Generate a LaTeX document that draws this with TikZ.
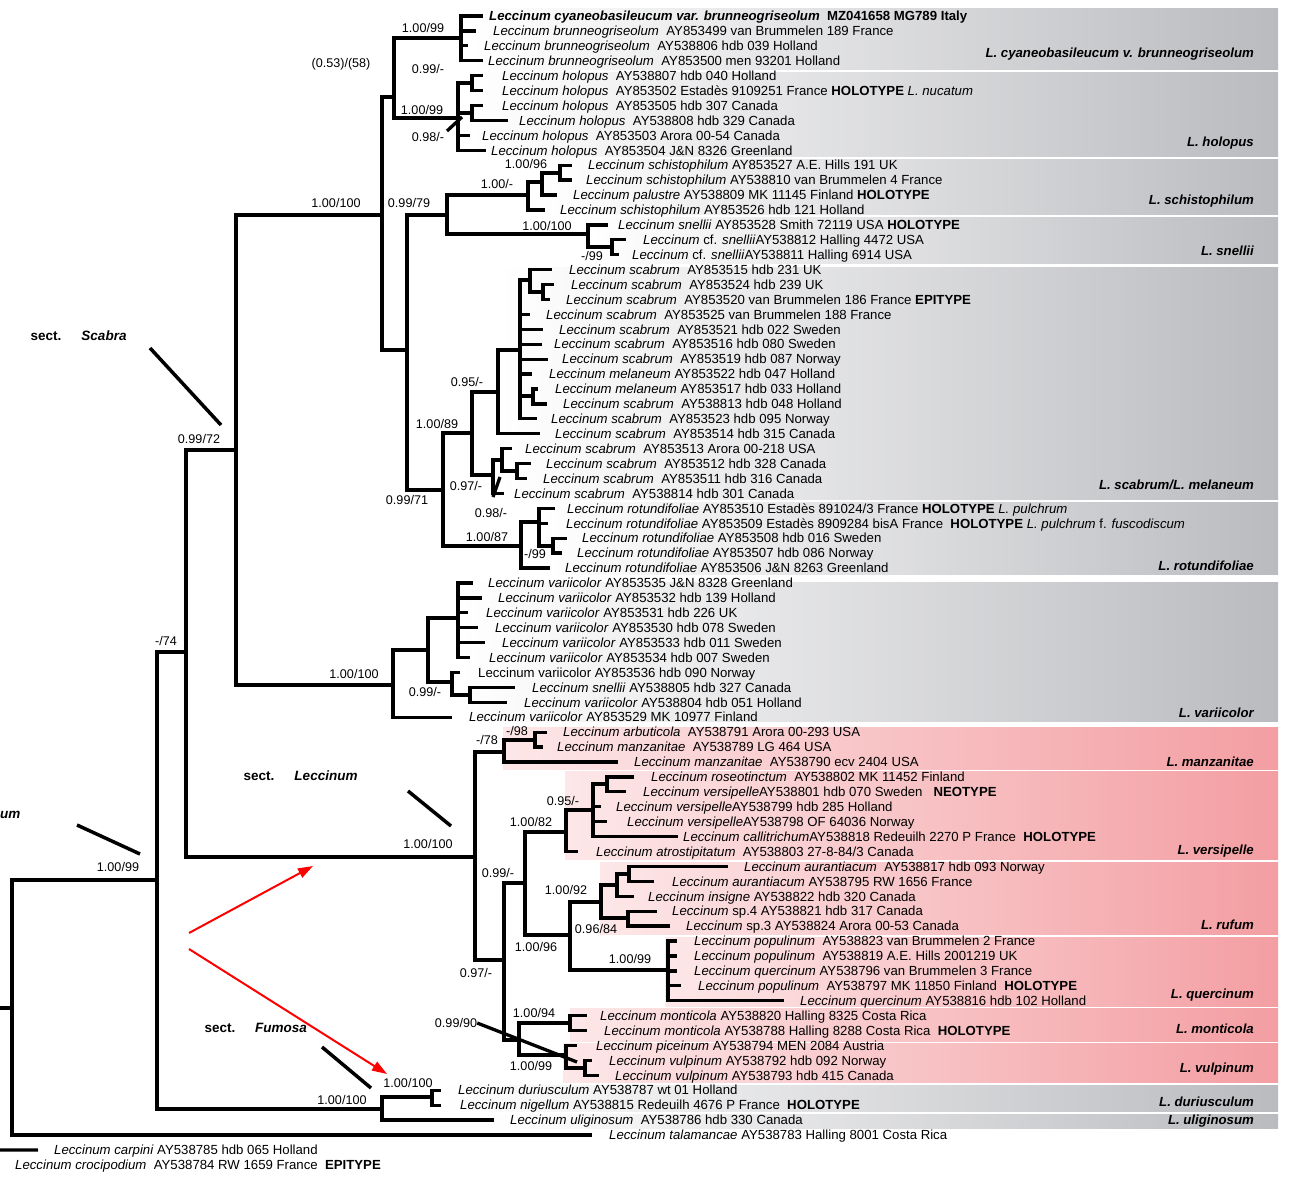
\documentclass[tikz,border=0pt]{standalone}
\usepackage{fontspec}
\setmainfont{Liberation Sans}
\usepackage{xcolor}
\usepackage{tikz}
\usetikzlibrary{arrows.meta}
\definecolor{bandgrey}{RGB}{186,187,191}
\definecolor{bandpink}{RGB}{243,158,162}
\definecolor{palepink}{RGB}{253,231,232}
\tikzstyle{taxon} = [anchor=west, inner sep=0pt, text height=9.5pt, text depth=0pt, font=\fontsize{13.2}{14}\selectfont]
\tikzstyle{sup} = [inner sep=0pt, font=\fontsize{12.6}{13}\selectfont]
\tikzstyle{clade} = [anchor=east, inner sep=0pt, font=\fontsize{13.2}{14}\selectfont\bfseries\itshape]
\tikzstyle{sect} = [inner sep=0pt, font=\fontsize{13.5}{14}\selectfont\bfseries]
\tikzstyle{br} = [line width=3.3pt]
\tikzstyle{sectline} = [line width=3.5pt]
\tikzstyle{redarr} = [-{Triangle[length=15pt,width=10pt]}, line width=2pt, red]
\tikzstyle{greyband} = [left color=white, right color=bandgrey]
\tikzstyle{pinkband} = [left color=palepink, right color=bandpink]
\newcommand{\lec}[1]{\textit{Leccinum #1}}

\begin{document}
\begin{tikzpicture}[x=1pt, y=-1pt]
  \useasboundingbox (0,0) rectangle (1289,1183);
  \fill[white] (0,0) rectangle (1289,1183);
  % clade bands
  \shade[greyband] (470,8) rectangle (1278,69);
  \shade[greyband] (470,72) rectangle (1278,156);
  \shade[greyband] (540,159) rectangle (1278,214);
  \shade[greyband] (590,217) rectangle (1278,263);
  \shade[greyband] (500,267) rectangle (1278,499);
  \shade[greyband] (540,502) rectangle (1278,574);
  \shade[greyband] (460,582) rectangle (1278,721);
  \shade[pinkband] (503,727) rectangle (1278,769);
  \shade[pinkband] (565,771) rectangle (1278,859);
  \shade[pinkband] (600,862) rectangle (1278,934);
  \shade[pinkband] (665,937) rectangle (1278,1006);
  \shade[pinkband] (570,1008) rectangle (1278,1041);
  \shade[pinkband] (563,1043) rectangle (1278,1082);
  \shade[greyband] (440,1085) rectangle (1278,1111);
  \shade[greyband] (490,1114) rectangle (1278,1128);

  % internal nodes (x, height of the stem)
  \coordinate (rootin) at (0,1008);
  \coordinate (root) at (12,1008);
  \coordinate (A) at (157,880);
  \coordinate (B) at (186,652);
  \coordinate (C) at (236,450);
  \coordinate (D) at (382,215);
  \coordinate (E) at (394,97);
  \coordinate (CY) at (461,38);
  \coordinate (H) at (458,118);
  \coordinate (p56) at (472,83);
  \coordinate (p78) at (472,113);
  \coordinate (G) at (407,350);
  \coordinate (S) at (447,215);
  \coordinate (SS) at (528,195);
  \coordinate (SS2) at (542,182);
  \coordinate (P1112) at (560,173);
  \coordinate (SN) at (588,234);
  \coordinate (P1617) at (612,247);
  \coordinate (R) at (443,490);
  \coordinate (SC) at (472,433);
  \coordinate (SA) at (498,392);
  \coordinate (SB) at (520,350);
  \coordinate (PA) at (530,280);
  \coordinate (PB) at (543,292);
  \coordinate (P2627) at (533,396);
  \coordinate (SD) at (493,475);
  \coordinate (SF) at (502,460);
  \coordinate (P3132) at (517,471);
  \coordinate (RO) at (521,546);
  \coordinate (RA) at (539,522);
  \coordinate (P3637) at (553,546);
  \coordinate (V) at (393,685);
  \coordinate (V1) at (428,650);
  \coordinate (V2) at (458,618);
  \coordinate (V3) at (452,682);
  \coordinate (P4647) at (470,695);
  \coordinate (L) at (475,857);
  \coordinate (M) at (504,752);
  \coordinate (M1) at (535,740);
  \coordinate (LA) at (504,960);
  \coordinate (VE) at (525,883);
  \coordinate (VC) at (566,832);
  \coordinate (VA) at (593,810);
  \coordinate (VB) at (607,784);
  \coordinate (RU) at (570,935);
  \coordinate (RF) at (601,902);
  \coordinate (RF1) at (617,885);
  \coordinate (RF2) at (629,874);
  \coordinate (RF3) at (628,918);
  \coordinate (QU) at (668,970);
  \coordinate (MV) at (519,1040);
  \coordinate (MO) at (570,1023);
  \coordinate (VU) at (566,1055);
  \coordinate (P7172) at (585,1068);
  \coordinate (F) at (382,1109);
  \coordinate (DU) at (432,1097);
  \coordinate (cin) at (0,1150);

  % taxa
  \node[taxon] (n1) at (489,16.0) {\textbf{\textit{Leccinum cyaneobasileucum var. brunneogriseolum}\ \ MZ041658 MG789 Italy}};
  \node[taxon] (n2) at (493,30.9) {\lec{brunneogriseolum}\ \ AY853499 van Brummelen 189 France};
  \node[taxon] (n3) at (484,45.8) {\lec{brunneogriseolum}\ \ AY538806 hdb 039 Holland};
  \node[taxon] (n4) at (488,60.8) {\lec{brunneogriseolum}\ \ AY853500 men 93201 Holland};
  \node[taxon] (n5) at (502,75.7) {\lec{holopus}\ \ AY538807 hdb 040 Holland};
  \node[taxon] (n6) at (502,90.6) {\lec{holopus}\ \ AY853502 Estadès 9109251 France \textbf{HOLOTYPE} \textit{L. nucatum}};
  \node[taxon] (n7) at (502,105.5) {\lec{holopus}\ \ AY853505 hdb 307 Canada};
  \node[taxon] (n8) at (519,120.4) {\lec{holopus}\ \ AY538808 hdb 329 Canada};
  \node[taxon] (n9) at (482,135.4) {\lec{holopus}\ \ AY853503 Arora 00-54 Canada};
  \node[taxon] (n10) at (491,150.3) {\lec{holopus}\ \ AY853504 J\&N 8326 Greenland};
  \node[taxon] (n11) at (588,165.2) {\lec{schistophilum} AY853527 A.E. Hills 191 UK};
  \node[taxon] (n12) at (586,180.1) {\lec{schistophilum} AY538810 van Brummelen 4 France};
  \node[taxon] (n13) at (573,195.0) {\lec{palustre} AY538809 MK 11145 Finland \textbf{HOLOTYPE}};
  \node[taxon] (n14) at (560,210.0) {\lec{schistophilum} AY853526 hdb 121 Holland};
  \node[taxon] (n15) at (618,224.9) {\lec{snellii} AY853528 Smith 72119 USA \textbf{HOLOTYPE}};
  \node[taxon] (n16) at (643,239.8) {\textit{Leccinum} cf. \textit{snellii}AY538812 Halling 4472 USA};
  \node[taxon] (n17) at (632,254.7) {\textit{Leccinum} cf. \textit{snellii}AY538811 Halling 6914 USA};
  \node[taxon] (n18) at (569,269.6) {\lec{scabrum}\ \ AY853515 hdb 231 UK};
  \node[taxon] (n19) at (571,284.6) {\lec{scabrum}\ \ AY853524 hdb 239 UK};
  \node[taxon] (n20) at (566,299.5) {\lec{scabrum}\ \ AY853520 van Brummelen 186 France \textbf{EPITYPE}};
  \node[taxon] (n21) at (546,314.4) {\lec{scabrum}\ \ AY853525 van Brummelen 188 France};
  \node[taxon] (n22) at (559,329.3) {\lec{scabrum}\ \ AY853521 hdb 022 Sweden};
  \node[taxon] (n23) at (554,344.2) {\lec{scabrum}\ \ AY853516 hdb 080 Sweden};
  \node[taxon] (n24) at (562,359.2) {\lec{scabrum}\ \ AY853519 hdb 087 Norway};
  \node[taxon] (n25) at (549,374.1) {\lec{melaneum} AY853522 hdb 047 Holland};
  \node[taxon] (n26) at (555,389.0) {\lec{melaneum} AY853517 hdb 033 Holland};
  \node[taxon] (n27) at (563,403.9) {\lec{scabrum}\ \ AY538813 hdb 048 Holland};
  \node[taxon] (n28) at (551,418.8) {\lec{scabrum}\ \ AY853523 hdb 095 Norway};
  \node[taxon] (n29) at (555,433.8) {\lec{scabrum}\ \ AY853514 hdb 315 Canada};
  \node[taxon] (n30) at (525,448.7) {\lec{scabrum}\ \ AY853513 Arora 00-218 USA};
  \node[taxon] (n31) at (546,463.6) {\lec{scabrum}\ \ AY853512 hdb 328 Canada};
  \node[taxon] (n32) at (543,478.5) {\lec{scabrum}\ \ AY853511 hdb 316 Canada};
  \node[taxon] (n33) at (514,493.4) {\lec{scabrum}\ \ AY538814 hdb 301 Canada};
  \node[taxon] (n34) at (567,508.4) {\lec{rotundifoliae} AY853510 Estadès 891024/3 France \textbf{HOLOTYPE} \textit{L. pulchrum}};
  \node[taxon] (n35) at (566,523.3) {\lec{rotundifoliae} AY853509 Estadès 8909284 bisA France\ \ \textbf{HOLOTYPE} \textit{L. pulchrum} f. \textit{fuscodiscum}};
  \node[taxon] (n36) at (582,538.2) {\lec{rotundifoliae} AY853508 hdb 016 Sweden};
  \node[taxon] (n37) at (577,553.1) {\lec{rotundifoliae} AY853507 hdb 086 Norway};
  \node[taxon] (n38) at (565,568.0) {\lec{rotundifoliae} AY853506 J\&N 8263 Greenland};
  \node[taxon] (n39) at (488,583.0) {\lec{variicolor} AY853535 J\&N 8328 Greenland};
  \node[taxon] (n40) at (498,597.9) {\lec{variicolor} AY853532 hdb 139 Holland};
  \node[taxon] (n41) at (486,612.8) {\lec{variicolor} AY853531 hdb 226 UK};
  \node[taxon] (n42) at (495,627.7) {\lec{variicolor} AY853530 hdb 078 Sweden};
  \node[taxon] (n43) at (502,642.6) {\lec{variicolor} AY853533 hdb 011 Sweden};
  \node[taxon] (n44) at (489,657.6) {\lec{variicolor} AY853534 hdb 007 Sweden};
  \node[taxon] (n45) at (478,672.5) {Leccinum variicolor AY853536 hdb 090 Norway};
  \node[taxon] (n46) at (532,687.4) {\lec{snellii} AY538805 hdb 327 Canada};
  \node[taxon] (n47) at (524,702.3) {\lec{variicolor} AY538804 hdb 051 Holland};
  \node[taxon] (n48) at (469,717.2) {\lec{variicolor} AY853529 MK 10977 Finland};
  \node[taxon] (n49) at (563,732.2) {\lec{arbuticola}\ \ AY538791 Arora 00-293 USA};
  \node[taxon] (n50) at (557,747.1) {\lec{manzanitae}\ \ AY538789 LG 464 USA};
  \node[taxon] (n51) at (634,762.0) {\lec{manzanitae}\ \ AY538790 ecv 2404 USA};
  \node[taxon] (n52) at (651,776.9) {\lec{roseotinctum}\ \ AY538802 MK 11452 Finland};
  \node[taxon] (n53) at (643,791.8) {\lec{versipelle}AY538801 hdb 070 Sweden\ \ \ \textbf{NEOTYPE}};
  \node[taxon] (n54) at (616,806.8) {\lec{versipelle}AY538799 hdb 285 Holland};
  \node[taxon] (n55) at (627,821.7) {\lec{versipelle}AY538798 OF 64036 Norway};
  \node[taxon] (n56) at (683,836.6) {\lec{callitrichum}AY538818 Redeuilh 2270 P France\ \ \textbf{HOLOTYPE}};
  \node[taxon] (n57) at (596,851.5) {\lec{atrostipitatum}\ \ AY538803 27-8-84/3 Canada};
  \node[taxon] (n58) at (744,866.4) {\lec{aurantiacum}\ \ AY538817 hdb 093 Norway};
  \node[taxon] (n59) at (672,881.4) {\lec{aurantiacum} AY538795 RW 1656 France};
  \node[taxon] (n60) at (648,896.3) {\lec{insigne} AY538822 hdb 320 Canada};
  \node[taxon] (n61) at (672,911.2) {\textit{Leccinum} sp.4 AY538821 hdb 317 Canada};
  \node[taxon] (n62) at (686,926.1) {\textit{Leccinum} sp.3 AY538824 Arora 00-53 Canada};
  \node[taxon] (n63) at (694,941.0) {\lec{populinum}\ \ AY538823 van Brummelen 2 France};
  \node[taxon] (n64) at (694,956.0) {\lec{populinum}\ \ AY538819 A.E. Hills 2001219 UK};
  \node[taxon] (n65) at (694,970.9) {\lec{quercinum} AY538796 van Brummelen 3 France};
  \node[taxon] (n66) at (698,985.8) {\lec{populinum}\ \ AY538797 MK 11850 Finland\ \ \textbf{HOLOTYPE}};
  \node[taxon] (n67) at (800,1000.7) {\lec{quercinum} AY538816 hdb 102 Holland};
  \node[taxon] (n68) at (600,1015.6) {\lec{monticola} AY538820 Halling 8325 Costa Rica};
  \node[taxon] (n69) at (604,1030.6) {\lec{monticola} AY538788 Halling 8288 Costa Rica\ \ \textbf{HOLOTYPE}};
  \node[taxon] (n70) at (596,1045.5) {\lec{piceinum} AY538794 MEN 2084 Austria};
  \node[taxon] (n71) at (609,1060.4) {\lec{vulpinum} AY538792 hdb 092 Norway};
  \node[taxon] (n72) at (615,1075.3) {\lec{vulpinum} AY538793 hdb 415 Canada};
  \node[taxon] (n73) at (458,1090.2) {\lec{duriusculum} AY538787 wt 01 Holland};
  \node[taxon] (n74) at (460,1105.2) {\lec{nigellum} AY538815 Redeuilh 4676 P France\ \ \textbf{HOLOTYPE}};
  \node[taxon] (n75) at (510,1120.1) {\lec{uliginosum}\ \ AY538786 hdb 330 Canada};
  \node[taxon] (n76) at (609,1135.0) {\lec{talamancae} AY538783 Halling 8001 Costa Rica};
  \node[taxon] (n77) at (54,1149.9) {\lec{carpini} AY538785 hdb 065 Holland};
  \node[taxon] (n78) at (15,1164.8) {\lec{crocipodium}\ \ AY538784 RW 1659 France\ \ \textbf{EPITYPE}};

  % tree: node to node
  \draw[br] (rootin) -- (root);
  \foreach \p/\c in {root/A, A/B, A/F, B/C, B/L, C/D, C/V, D/E, D/G, E/CY, E/H, H/p56, H/p78,
      G/S, G/R, S/SS, S/SN, SS/SS2, SS2/P1112, SN/P1617, R/SC, R/RO, SC/SA, SC/SD, SA/SB,
      SB/PA, PA/PB, SB/P2627, SD/SF, SF/P3132, RO/RA, RA/P3637, V/V1, V1/V2, V1/V3, V3/P4647,
      L/M, L/LA, M/M1, LA/VE, LA/MV, VE/VC, VE/RU, VC/VA, VA/VB, RU/RF, RU/QU, RF/RF1, RF/RF3,
      RF1/RF2, MV/MO, MV/VU, VU/P7172, F/DU}
    \draw[br] (\p) |- (\c);
  % tree: node to taxon (parent / taxon / gap before the text)
  \foreach \p/\i/\g in {CY/1/6, CY/2/17, CY/3/16, CY/4/5, p56/5/19, p56/6/19, p78/7/19, p78/8/11,
      H/9/12, H/10/5, P1112/11/16, P1112/12/14, SS2/13/16, SS/14/15, SN/15/10, P1617/16/17,
      P1617/17/13, PA/18/17, PB/19/17, PB/20/16, SB/21/16, SB/22/16, SB/23/12, SB/24/14,
      SB/25/17, P2627/26/17, P2627/27/16, SB/28/14, SA/29/15, SF/30/13, P3132/31/15,
      P3132/32/16, SD/33/10, RA/34/12, RA/35/18, P3637/36/15, P3637/37/15, RO/38/15,
      V2/39/15, V2/40/16, V2/41/18, V2/42/17, V2/43/17, V2/44/19, V3/45/18, P4647/46/17,
      P4647/47/17, V/48/17, M1/49/16, M1/50/14, M/51/16, VB/52/17, VB/53/17, VA/54/15,
      VA/55/20, VA/56/5, VC/57/18, RF2/58/16, RF2/59/18, RF1/60/14, RF3/61/15, RF3/62/16,
      QU/63/17, QU/64/17, QU/65/17, QU/66/17, QU/67/16, MO/68/13, MO/69/17, VU/70/19,
      P7172/71/17, P7172/72/16, DU/73/17, DU/74/19, F/75/16, root/76/17}
    \draw[br] (\p) |- ([xshift=-\g]n\i.west);
  \draw[br] (cin) -- ([xshift=-16]n77.west);

  % support values
  \node[sup] (s1) at (341,64) {(0.53)/(58)};
  \node[sup] (s2) at (423,28) {1.00/99};
  \node[sup] (s3) at (428,69) {0.99/-};
  \node[sup] (s4) at (422,110) {1.00/99};
  \node[sup] (s5) at (428,137) {0.98/-};
  \node[sup] (s6) at (336,203) {1.00/100};
  \node[sup] (s7) at (409,203) {0.99/79};
  \node[sup] (s8) at (526,164) {1.00/96};
  \node[sup] (s9) at (497,184) {1.00/-};
  \node[sup] (s10) at (547,226) {1.00/100};
  \node[sup] (s11) at (592,256) {-/99};
  \node[sup] (s12) at (467,382) {0.95/-};
  \node[sup] (s13) at (437,424) {1.00/89};
  \node[sup] (s14) at (466,486) {0.97/-};
  \node[sup] (s15) at (491,513) {0.98/-};
  \node[sup] (s16) at (407,500) {0.99/71};
  \node[sup] (s17) at (487,537) {1.00/87};
  \node[sup] (s18) at (535,554) {-/99};
  \node[sup] (s19) at (354,674) {1.00/100};
  \node[sup] (s20) at (425,692) {0.99/-};
  \node[sup] (s21) at (199,439) {0.99/72};
  \node[sup] (s22) at (166,641) {-/74};
  \node[sup] (s23) at (118,867) {1.00/99};
  \node[sup] (s24) at (517,731) {-/98};
  \node[sup] (s25) at (487,740) {-/78};
  \node[sup] (s26) at (428,844) {1.00/100};
  \node[sup] (s27) at (563,801) {0.95/-};
  \node[sup] (s28) at (531,822) {1.00/82};
  \node[sup] (s29) at (498,873) {0.99/-};
  \node[sup] (s30) at (566,890) {1.00/92};
  \node[sup] (s31) at (596,929) {0.96/84};
  \node[sup] (s32) at (536,947) {1.00/96};
  \node[sup] (s33) at (630,959) {1.00/99};
  \node[sup] (s34) at (476,973) {0.97/-};
  \node[sup] (s35) at (534,1013) {1.00/94};
  \node[sup] (s36) at (456,1023) {0.99/90};
  \node[sup] (s37) at (531,1066) {1.00/99};
  \node[sup] (s38) at (408,1083) {1.00/100};
  \node[sup] (s39) at (342,1100) {1.00/100};
  % pointers to nodes
  \coordinate (tk1) at (462,117);
  \coordinate (tk2) at (500,477);
  \coordinate (tk3) at (577,1062);
  \draw[br] (447,131) -- (tk1);
  \draw[br] (493,497) -- (tk2);
  \draw[br] (s36.east) -- (tk3);

  % clade names
  \node[clade] (cl1) at (1254,54) {L. cyaneobasileucum v. brunneogriseolum};
  \node[clade] (cl2) at (1254,143) {L. holopus};
  \node[clade] (cl3) at (1254,201) {L. schistophilum};
  \node[clade] (cl4) at (1254,251) {L. snellii};
  \node[clade] (cl5) at (1254,485) {L. scabrum/L. melaneum};
  \node[clade] (cl6) at (1254,566) {L. rotundifoliae};
  \node[clade] (cl7) at (1254,713) {L. variicolor};
  \node[clade] (cl8) at (1254,762) {L. manzanitae};
  \node[clade] (cl9) at (1254,851) {L. versipelle};
  \node[clade] (cl10) at (1254,925) {L. rufum};
  \node[clade] (cl11) at (1254,995) {L. quercinum};
  \node[clade] (cl12) at (1254,1029) {L. monticola};
  \node[clade] (cl13) at (1254,1069) {L. vulpinum};
  \node[clade] (cl14) at (1254,1102) {L. duriusculum};
  \node[clade] (cl15) at (1254,1121) {L. uliginosum};

  % sections
  \node[sect] (sc1) at (46,336) {sect.};
  \node[sect] (sc2) at (104,336) {\textit{Scabra}};
  \node[sect] (sc3) at (259,776) {sect.};
  \node[sect] (sc4) at (326,776) {\textit{Leccinum}};
  \node[sect] (sc5) at (220,1028) {sect.};
  \node[sect] (sc6) at (281,1028) {\textit{Fumosa}};
  \node[sect, anchor=west] (sc7) at (0,815) {\textit{um}};
  \coordinate (scabA) at (150,348);  \coordinate (scabB) at (221,425);
  \coordinate (leccA) at (408,791);  \coordinate (leccB) at (451,826);
  \coordinate (fumA) at (322,1047);  \coordinate (fumB) at (371,1088);
  \coordinate (umA) at (77,825);     \coordinate (umB) at (140,854);
  \draw[sectline] (scabA) -- (scabB);
  \draw[sectline] (leccA) -- (leccB);
  \draw[sectline] (fumA) -- (fumB);
  \draw[sectline] (umA) -- (umB);
  % red arrows
  \coordinate (arrA) at (189,933);
  \coordinate (arrB) at (189,949);
  \coordinate (arrAt) at (313,866);
  \coordinate (arrBt) at (387,1074);
  \draw[redarr] (arrA) -- (arrAt);
  \draw[redarr] (arrB) -- (arrBt);
\end{tikzpicture}
\end{document}
